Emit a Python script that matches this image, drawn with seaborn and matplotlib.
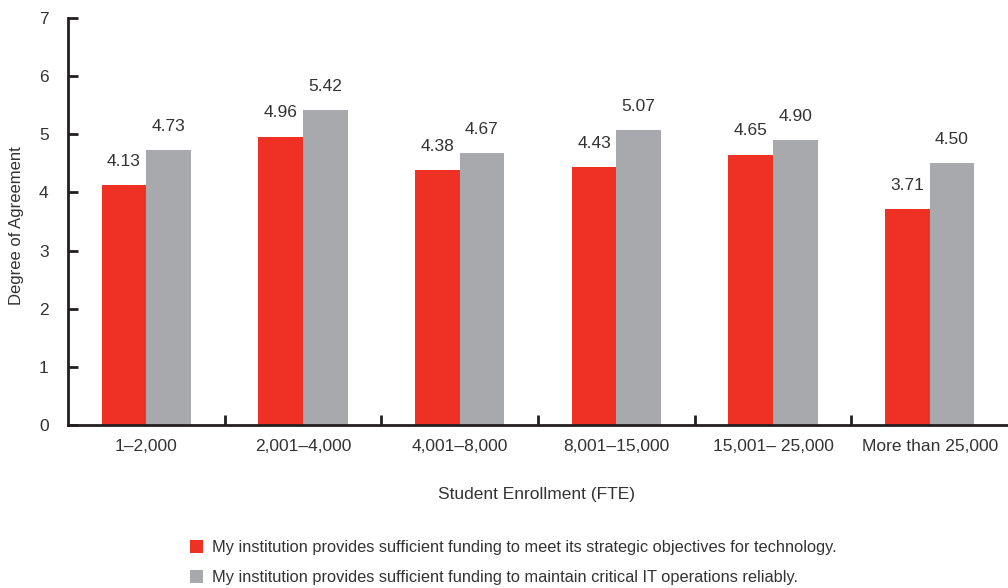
import matplotlib
matplotlib.use("Agg")
import matplotlib.pyplot as plt
import seaborn as sns
import pandas as pd
from matplotlib.patches import Patch

categories = ["1–2,000", "2,001–4,000", "4,001–8,000", "8,001–15,000", "15,001– 25,000", "More than 25,000"]
series_names = [
    "My institution provides sufficient funding to meet its strategic objectives for technology.",
    "My institution provides sufficient funding to maintain critical IT operations reliably.",
]
strategic = [4.13, 4.96, 4.38, 4.43, 4.65, 3.71]
operations = [4.73, 5.42, 4.67, 5.07, 4.90, 4.50]
colors = ["#EE3124", "#A7A9AC"]

sns.set_theme(style="white")
plt.rcParams['font.family'] = ['Liberation Sans Narrow', 'Liberation Sans', 'DejaVu Sans']
txt = "#333333"

df = pd.DataFrame({
    "cat": categories * 2,
    "val": strategic + operations,
    "series": [series_names[0]] * 6 + [series_names[1]] * 6,
})

fig = plt.figure(figsize=(10.08, 5.88), dpi=100)
ax = fig.add_axes([68/1008, 1-425/588, 1-68/1008, (425-18)/588])
sns.barplot(data=df, x="cat", y="val", hue="series", palette=colors, width=0.57,
            gap=0, saturation=1, ax=ax, legend=False, errorbar=None, linewidth=0,
            edgecolor="none")

for cont in ax.containers:
    for bar in cont:
        h = bar.get_height()
        ax.text(bar.get_x() + bar.get_width()/2, h + 0.28, f"{h:.2f}",
                ha="center", va="bottom", fontsize=12.5, color=txt)

ax.set_xlim(-0.5, 5.5)
ax.set_ylim(0, 7)
ax.set_yticks(range(8))
ax.set_xticks([i + 0.5 for i in range(5)], minor=False)
ax.set_xticklabels([])
ax.set_xticks(range(6), minor=True)
ax.set_xticklabels(categories, minor=True)
ax.tick_params(axis="x", which="major", direction="in", length=7, width=2, color="#231F20")
ax.tick_params(axis="x", which="minor", length=0, pad=10, labelsize=12.5, labelcolor=txt)
ax.tick_params(axis="y", direction="in", length=7, width=2, color="#231F20", pad=14,
               labelsize=12.5, labelcolor=txt)
ax.tick_params(left=True, bottom=True, which="both")
ax.tick_params(axis="x", which="minor", length=0)
for s in ["top", "right"]:
    ax.spines[s].set_visible(False)
for s in ["left", "bottom"]:
    ax.spines[s].set_color("#231F20")
    ax.spines[s].set_linewidth(2)
ax.set_xlabel("")
ax.set_ylabel("")

fig.text(537/1008, 1-494/588, "Student Enrollment (FTE)", ha="center", va="center",
         fontsize=12.5, color=txt)
fig.text(17/1008, 1-226/588, "Degree of Agreement", ha="center", va="center",
         rotation=90, fontsize=12, color=txt)

handles = [Patch(facecolor=c, edgecolor="none") for c in colors]
fig.legend(handles, series_names, loc="upper left", bbox_to_anchor=(182/1008, 1-532/588),
           frameon=False, fontsize=11.8, labelcolor=txt, handlelength=0.8, handleheight=0.8,
           handletextpad=0.55, labelspacing=0.9, borderpad=0)

fig.savefig("out.png", dpi=100)
